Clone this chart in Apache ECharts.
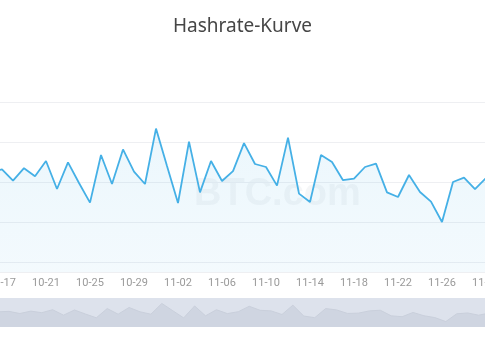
<!DOCTYPE html>
<html>
<head>
<meta charset="utf-8">
<script src="https://cdn.jsdelivr.net/npm/echarts@6/dist/echarts.min.js"></script>
<style>
html,body{margin:0;padding:0;background:#fff;}
#chart{width:485px;height:360px;}
</style>
</head>
<body>
<div id="chart"></div>
<script>
// Dates (category axis)
var dates = ['10-16','10-17','10-18','10-19','10-20','10-21','10-22','10-23','10-24','10-25',
  '10-26','10-27','10-28','10-29','10-30','10-31','11-01','11-02','11-03','11-04',
  '11-05','11-06','11-07','11-08','11-09','11-10','11-11','11-12','11-13','11-14',
  '11-15','11-16','11-17','11-18','11-19','11-20','11-21','11-22','11-23','11-24',
  '11-25','11-26','11-27','11-28','11-29','11-30'];
// Hashrate values (EH/s)
var hashrate = [85, 86.3, 80.7, 86.9, 82.9, 90.5, 76.5, 89.8, 79.5, 69.7,
  93.5, 79, 96.3, 85.2, 79, 106.7, 88, 69.5, 100.2, 74.8,
  90.5, 80.5, 85.4, 99.4, 89, 87.5, 78.2, 102.2, 74.2, 70,
  93.5, 90, 80.9, 81.7, 87.5, 89.2, 74.8, 72.5, 83.5, 75,
  70.2, 60, 80, 82.2, 76.4, 82];
var titleText = 'Hashrate-Kurve';
var watermark = 'BTC.com';

var chart = echarts.init(document.getElementById('chart'));
chart.setOption({
  animation: false,
  backgroundColor: '#ffffff',
  title: {
    text: titleText,
    left: 'center',
    top: 12,
    textStyle: { fontFamily: 'Noto Sans', fontSize: 19, fontWeight: 'normal', color: '#464646' }
  },
  graphic: [{
    type: 'text',
    left: 194,
    top: 176,
    z: 0,
    silent: true,
    style: {
      text: watermark,
      font: 'bold 38px "Liberation Sans"',
      fill: 'rgba(170,180,190,0.12)'
    }
  }],
  grid: {
    left: -14.5, right: -6.5, top: 102, bottom: 88,
    outerBoundsMode: 'none',
    containLabel: false
  },
  xAxis: {
    type: 'category',
    data: dates,
    boundaryGap: true,
    axisLine: { show: false },
    axisTick: { show: false },
    axisLabel: {
      interval: function (idx) { return (idx - 1) % 4 === 0; },
      color: '#9a9a9a',
      fontSize: 11,
      fontFamily: 'Roboto',
      margin: 6
    },
    splitLine: { show: false }
  },
  yAxis: {
    type: 'value',
    min: 35,
    max: 120,
    axisLabel: { show: false },
    axisLine: { show: false },
    axisTick: { show: false },
    splitLine: { show: true, lineStyle: { color: '#eeeff2', width: 1 } }
  },
  dataZoom: [{
    type: 'slider',
    xAxisIndex: 0,
    start: 0,
    end: 100,
    left: -4.5,
    right: -2,
    top: 298,
    height: 29,
    showDetail: false,
    brushSelect: false,
    borderColor: 'transparent',
    backgroundColor: '#dde2ec',
    fillerColor: 'rgba(0,0,0,0)',
    handleSize: 0,
    handleStyle: { opacity: 0 },
    moveHandleSize: 0,
    moveHandleStyle: { opacity: 0 },
    dataBackground: {
      lineStyle: { color: '#c9cfdb', width: 1, opacity: 1 },
      areaStyle: { color: '#cfd5e1', opacity: 1 }
    },
    selectedDataBackground: {
      lineStyle: { color: '#c9cfdb', width: 1, opacity: 1 },
      areaStyle: { color: '#cfd5e1', opacity: 1 }
    }
  }],
  series: [{
    type: 'line',
    data: hashrate,
    showSymbol: false,
    symbol: 'none',
    z: 3,
    lineStyle: { color: '#45b0e6', width: 1.8 },
    areaStyle: {
      color: new echarts.graphic.LinearGradient(0, 0, 0, 1, [
        { offset: 0, color: 'rgba(69,176,230,0.15)' },
        { offset: 1, color: 'rgba(69,176,230,0.09)' }
      ])
    }
  }]
});
</script>
</body>
</html>
